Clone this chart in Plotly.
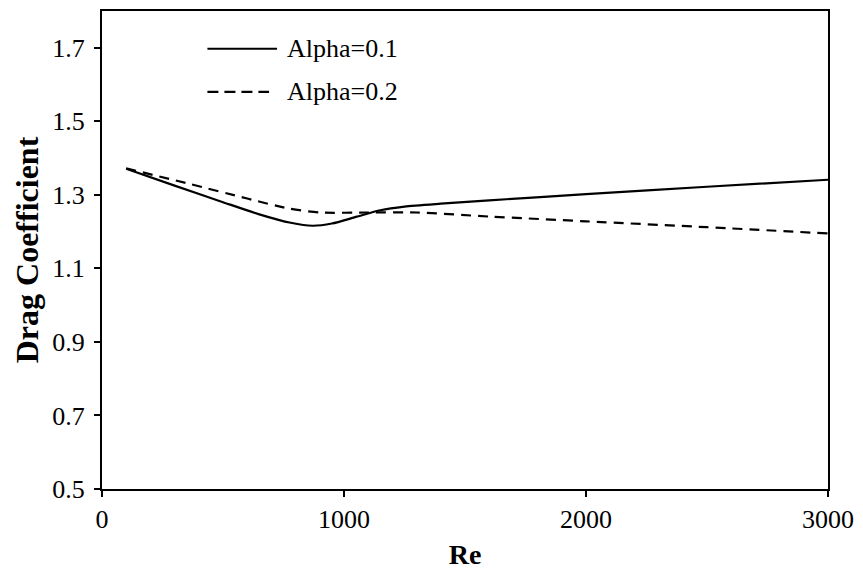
import plotly.graph_objects as go

re_a1 = [100, 300, 500, 650, 780, 870, 950, 1050, 1150, 1250, 1400, 1600, 2000, 2500, 3000]
cd_a1 = [1.371, 1.325, 1.280, 1.247, 1.224, 1.216, 1.222, 1.240, 1.258, 1.268, 1.276, 1.285, 1.302, 1.322, 1.341]

re_a2 = [100, 360, 600, 770, 900, 1100, 1300, 1600, 2000, 2500, 3000]
cd_a2 = [1.372, 1.330, 1.290, 1.263, 1.252, 1.252, 1.252, 1.241, 1.228, 1.212, 1.195]

labels = ["Alpha=0.1", "Alpha=0.2"]
x_ticks = [0, 1000, 2000, 3000]
y_ticks = [0.5, 0.7, 0.9, 1.1, 1.3, 1.5, 1.7]

FONT = "Liberation Serif"

fig = go.Figure()
fig.add_trace(go.Scatter(x=re_a1, y=cd_a1, mode="lines", name=labels[0],
                         line=dict(color="black", width=2.2, shape="spline", smoothing=0.7),
                         showlegend=False))
fig.add_trace(go.Scatter(x=re_a2, y=cd_a2, mode="lines", name=labels[1],
                         line=dict(color="black", width=2.2, dash="10px,7px", shape="spline", smoothing=0.7),
                         showlegend=False))

# legend drawn in paper coordinates
leg_y = [0.921, 0.831]
leg_dash = [None, "11px,6px"]
for i in range(2):
    fig.add_shape(type="line", xref="paper", yref="paper",
                  x0=0.1452, x1=0.2411 if i == 0 else 0.2301, y0=leg_y[i], y1=leg_y[i],
                  line=dict(color="black", width=2.2, dash=leg_dash[i]))
    fig.add_annotation(xref="paper", yref="paper", x=0.252, y=leg_y[i],
                       text=labels[i], showarrow=False, xanchor="left", yanchor="middle",
                       font=dict(family=FONT, size=26, color="black"))

fig.update_layout(
    width=863, height=575,
    margin=dict(l=102, r=31, t=9, b=86),
    paper_bgcolor="white", plot_bgcolor="white",
    font=dict(family=FONT, size=26, color="black"),
    showlegend=False,
)
fig.update_xaxes(range=[0, 3000], tickvals=x_ticks, ticks="outside", ticklen=6, tickwidth=2,
                 tickcolor="black", showline=True, linecolor="black", linewidth=2, mirror=True,
                 showgrid=False, zeroline=False,
                 title=dict(text="<b>Re</b>", font=dict(family=FONT, size=28), standoff=11))
fig.update_yaxes(range=[0.5, 1.8], tickvals=y_ticks, tickformat=".1f", ticks="outside", ticklen=6,
                 tickwidth=2, tickcolor="black", showline=True, linecolor="black", linewidth=2,
                 mirror=True, showgrid=False, zeroline=False, ticklabelstandoff=4,
                 title=dict(text="<b>Drag Coefficient</b>", font=dict(family=FONT, size=32), standoff=4))

fig.write_html("out.html")
